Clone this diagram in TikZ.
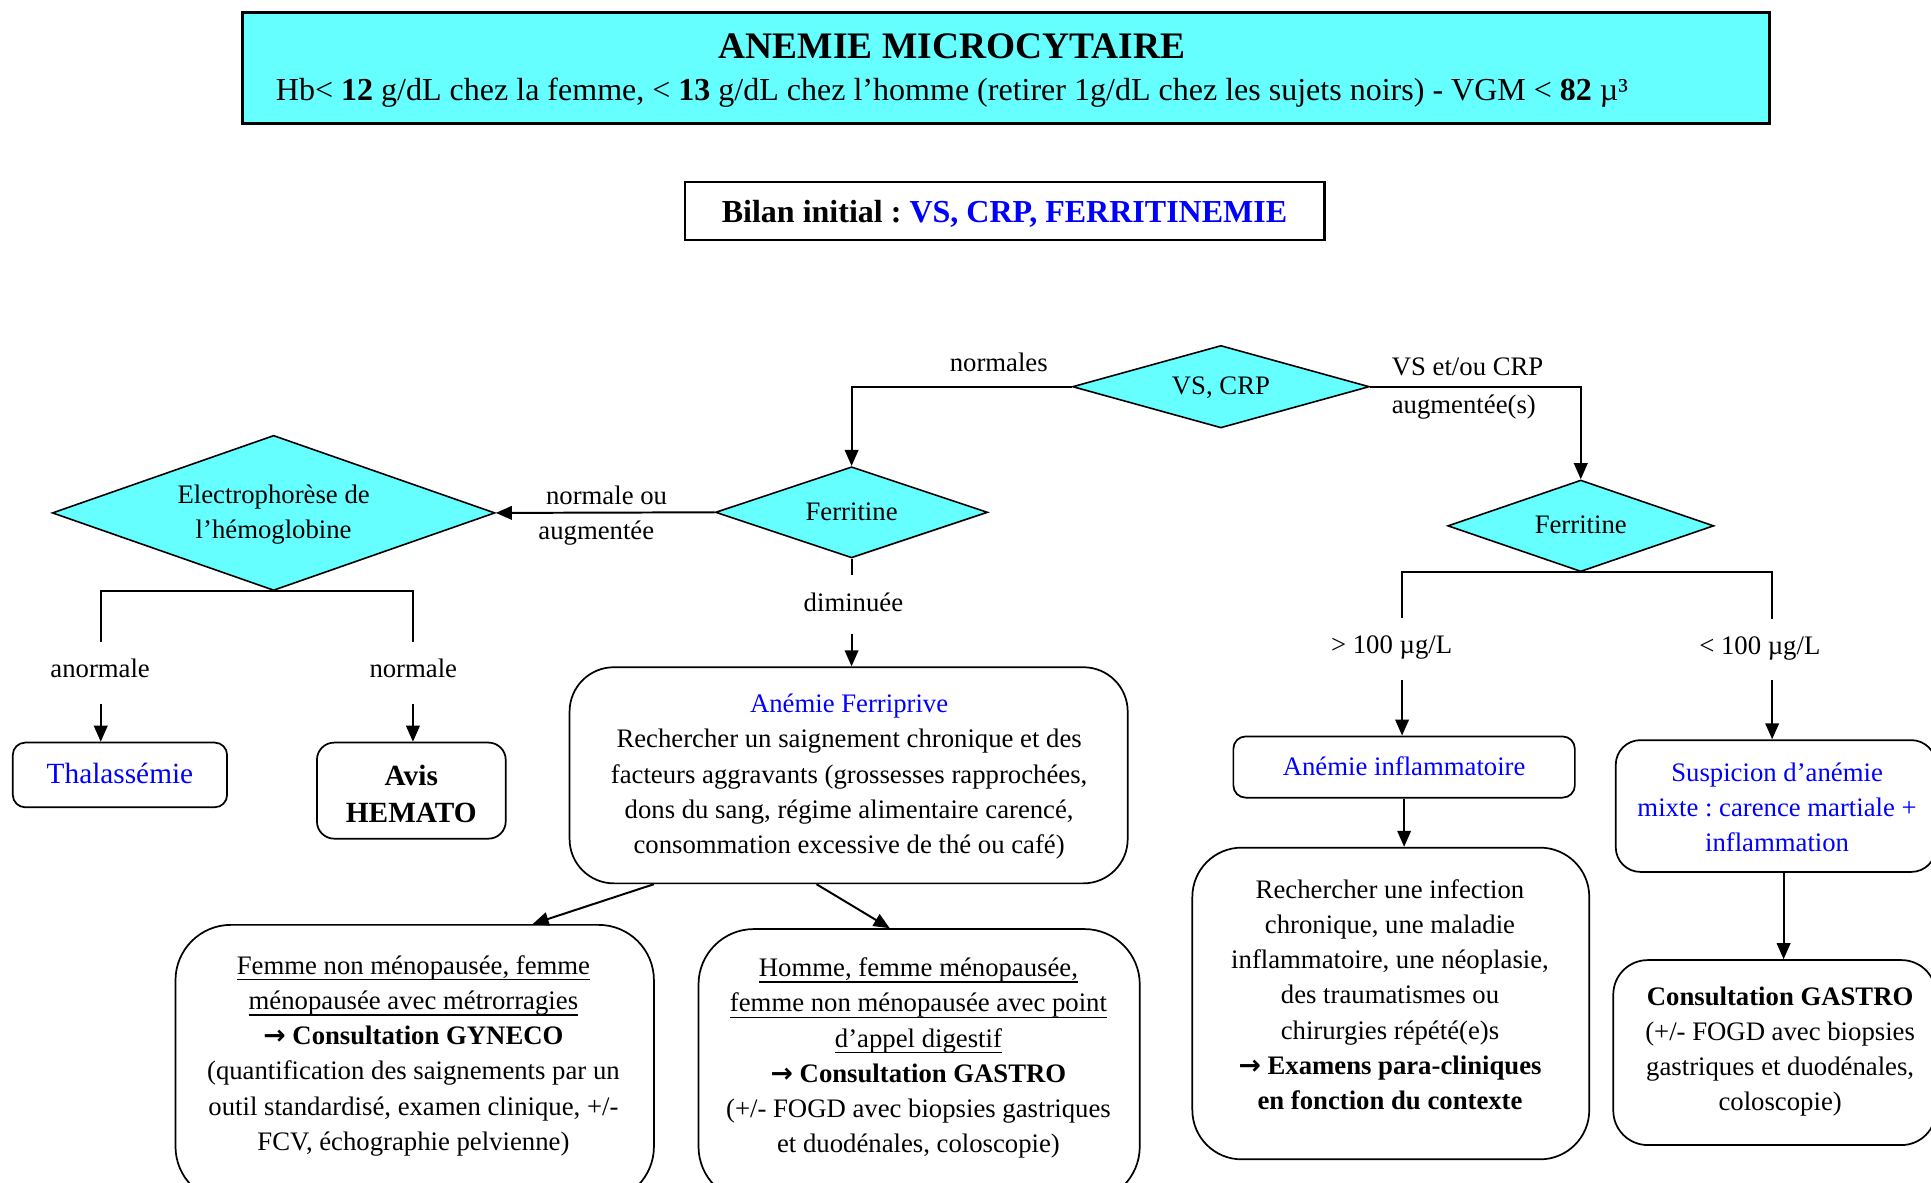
\documentclass[tikz,border=0pt]{standalone}
\usepackage{fontspec}
\setmainfont{Liberation Serif}
\newfontfamily\arrowfont{DejaVu Sans}
\usetikzlibrary{shapes.geometric,arrows.meta}
\definecolor{cyanfill}{RGB}{102,255,255}
\definecolor{tblue}{RGB}{0,0,255}
\frenchspacing
\newcommand\lst[1][1.3]{\rule[\dimexpr(0.6em-#1em)/2\relax]{0pt}{#1em}}
\newcommand\rarr{{\arrowfont\bfseries →}}
\newsavebox\ulbox
\newcommand\ulx[1]{\sbox\ulbox{#1}\rlap{\rule[-5pt]{\wd\ulbox}{1.2pt}}\usebox\ulbox}
\begin{document}
\begin{tikzpicture}[x=1pt,y=-1pt,
  conn/.style={line width=1.6pt},
  arr/.style={line width=1.6pt,-{Triangle[length=13pt,width=11pt]}},
  dia/.style={diamond, draw, line width=1.3pt, fill=cyanfill, inner sep=0pt, align=center,
    font=\fontsize{21.7}{28.6}\selectfont},
  rbox/.style={draw, line width=1.4pt, rounded corners=#1, inner sep=0pt, align=center},
  txt/.style={inner sep=0pt, align=center, font=\fontsize{21.7}{28.6}\selectfont},
  lab/.style={inner sep=0pt, font=\fontsize{21.7}{28.6}\selectfont}
]
\useasboundingbox (0,0) rectangle (1568,960);
\clip (0,0) rectangle (1568,960);

% header
\node[draw, line width=2.2pt, fill=cyanfill, minimum width=1240pt, minimum height=90pt, inner sep=0pt] (title) at (817,55) {};
\node[txt, font=\bfseries\fontsize{30.4}{40}\selectfont] (titleA) at (773,38) {\lst ANEMIE MICROCYTAIRE};
\node[txt, font=\fontsize{26}{34}\selectfont] (titleB) at (773,74) {\lst Hb< \textbf{12} g/dL chez la femme, < \textbf{13} g/dL chez l’homme (retirer 1g/dL chez les sujets noirs) - VGM < \textbf{82} µ³};

\node[draw, line width=1.8pt, minimum width=519.2pt, minimum height=47.5pt, inner sep=0pt] (bilan) at (815.9,171.25) {};
\node[txt, font=\bfseries\fontsize{26}{34}\selectfont] (bilanT) at (815.7,173) {\lst Bilan initial : \textcolor{tblue}{VS, CRP, FERRITINEMIE}};

% diamonds
\node[dia, aspect=3.6, minimum width=241pt, minimum height=67pt] (vs) at (991.4,314) {\lst VS, CRP};
\node[dia, aspect=2.99, minimum width=221pt, minimum height=74pt] (f1) at (691.5,416) {\lst Ferritine};
\node[dia, aspect=2.85, minimum width=359.5pt, minimum height=126pt] (el) at (222.2,416.5) {\lst Electrophorèse de\\\lst l’hémoglobine};
\node[dia, aspect=2.9, minimum width=216pt, minimum height=74.4pt] (f2) at (1283.6,427) {\lst Ferritine};

% boxes
\node[rbox=10pt, minimum width=174pt, minimum height=52.5pt, text=tblue, font=\fontsize{23.8}{31.4}\selectfont] (thal) at (97.4,629.25) {\lst Thalassémie};
\node[rbox=14pt, minimum width=153.3pt, minimum height=78pt] (avis) at (334,642) {};
\node[txt, font=\bfseries\fontsize{23.8}{29.7}\selectfont] (avisT) at (334,645.5) {\lst[1.2]Avis\\\lst[1.2]HEMATO};
\node[rbox=36pt, minimum width=453.2pt, minimum height=175.5pt] (fp) at (689.1,629.55) {};
\node[rbox=10pt, minimum width=277.3pt, minimum height=49.7pt, text=tblue, font=\fontsize{21.7}{28.6}\selectfont] (infl) at (1140.15,622.85) {\lst Anémie inflammatoire};
\node[rbox=20pt, minimum width=260pt, minimum height=107pt] (susp) at (1442,654.5) {};
\node[rbox=40pt, minimum width=322.3pt, minimum height=253.1pt] (rech) at (1129.35,814.85) {};
\node[rbox=28pt, minimum width=262pt, minimum height=150.2pt] (gr) at (1441,854.7) {};
\node[rbox=45pt, minimum width=388.5pt, minimum height=225pt] (gy) at (336.75,863.5) {};
\node[rbox=45pt, minimum width=358.3pt, minimum height=221.6pt] (gm) at (746.35,865.2) {};

% box texts
\node[txt] (fpT) at (689.5,629.3) {\lst\textcolor{tblue}{Anémie Ferriprive}\\
\lst Rechercher un saignement chronique et des\\
\lst facteurs aggravants (grossesses rapprochées,\\
\lst dons du sang, régime alimentaire carencé,\\
\lst consommation excessive de thé ou café)};
\node[txt] (rechT) at (1128.7,808.6) {\lst Rechercher une infection\\
\lst chronique, une maladie\\
\lst inflammatoire, une néoplasie,\\
\lst des traumatismes ou\\
\lst chirurgies répété(e)s\\
\lst\textbf{\rarr\ Examens para-cliniques}\\
\lst\textbf{en fonction du contexte}};
\node[txt, text=tblue] (suspT) at (1443,656.5) {\lst Suspicion d’anémie\\
\lst mixte : carence martiale +\\
\lst inflammation};
\node[txt] (grT) at (1445.5,852.6) {\lst\textbf{Consultation GASTRO}\\
\lst(+/- FOGD avec biopsies\\
\lst gastriques et duodénales,\\
\lst coloscopie)};
\node[txt] (gyT) at (335.7,856) {\lst\ulx{Femme non ménopausée, femme}\\
\lst\ulx{ménopausée avec métrorragies}\\
\lst\textbf{\rarr\ Consultation GYNECO}\\
\lst(quantification des saignements par un\\
\lst outil standardisé, examen clinique, +/-\\
\lst FCV, échographie pelvienne)};
\node[txt] (gmT) at (745.8,858) {\lst\ulx{Homme, femme ménopausée,}\\
\lst\ulx{femme non ménopausée avec point}\\
\lst\ulx{d’appel digestif}\\
\lst\textbf{\rarr\ Consultation GASTRO}\\
\lst(+/- FOGD avec biopsies gastriques\\
\lst et duodénales, coloscopie)};

% labels
\node[lab] (lNorm) at (811,295) {\lst normales};
\node[lab, anchor=west] (lAug1) at (1130,298.3) {\lst VS et/ou CRP};
\node[lab, anchor=west] (lAug2) at (1130,329) {\lst augmentée(s)};
\node[lab] (lNo1) at (492.5,403.3) {\lst normale ou};
\node[lab] (lNo2) at (484.2,431.7) {\lst augmentée};
\node[lab] (lDim) at (693,490) {\lst diminuée};
\node[lab] (lAno) at (81.3,543.5) {\lst anormale};
\node[lab] (lNor) at (335.6,543.5) {\lst normale};
\node[lab] (lGt) at (1130,524) {\lst > 100 µg/L};
\node[lab] (lLt) at (1429,525) {\lst < 100 µg/L};

% connector break points
\coordinate (d1) at (691.5,467);
\coordinate (d2) at (691.5,515);
\coordinate (a1) at (81.8,521);
\coordinate (a2) at (81.8,572);
\coordinate (n1) at (335.3,521);
\coordinate (n2) at (335.3,572);
\coordinate (g1) at (1138.5,502);
\coordinate (g2) at (1138.5,552);
\coordinate (l1) at (1439,503);
\coordinate (l2) at (1439,552.4);

% connectors
\draw[arr] (vs.west) -| (f1.north);
\draw[arr] (vs.east) -| (f2.north);
\draw[arr] (f1.west) -- (el.east);
\draw[conn] (f1.south) -- (d1);
\draw[arr] (d2) -- (d2 |- fp.north);
\draw[conn] (a1) |- (el.south) -| (n1);
\draw[arr] (a2) -- (a2 |- thal.north);
\draw[arr] (n2) -- (n2 |- avis.north);
\draw[conn] (g1) |- (f2.south) -| (l1);
\draw[arr] (g2) -- (g2 |- infl.north);
\draw[arr] (l2) -- (l2 |- susp.north);
\draw[arr] (infl.south) -- (infl.south |- rech.north);
\draw[arr] ([xshift=6.3pt]susp.south) -- ([xshift=6.3pt]susp.south |- gr.north);
\draw[arr] ([xshift=-158.2pt]fp.south) -- ([xshift=95.8pt]gy.north);
\draw[arr] ([xshift=-26.1pt]fp.south) -- ([xshift=-23.9pt]gm.north);
\end{tikzpicture}
\end{document}
